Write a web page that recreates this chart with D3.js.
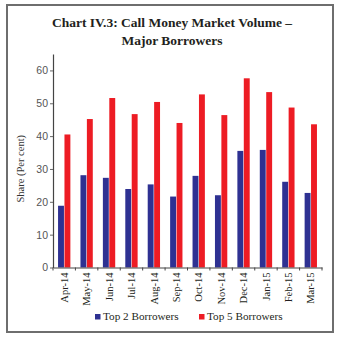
<!DOCTYPE html>
<html>
<head>
<meta charset="utf-8">
<script src="https://cdn.jsdelivr.net/npm/d3@7"></script>
<style>
  html, body { margin: 0; padding: 0; background: #fff; }
  svg { display: block; }
</style>
</head>
<body>
<svg id="chart" width="343" height="342"></svg>
<script>
// Monthly shares of call money borrowing by the largest borrowers
const months = ["Apr-14","May-14","Jun-14","Jul-14","Aug-14","Sep-14","Oct-14","Nov-14","Dec-14","Jan-15","Feb-15","Mar-15"];
const top2 = [18.8, 28.1, 27.3, 23.9, 25.3, 21.6, 27.9, 22.0, 35.5, 35.8, 26.1, 22.7];
const top5 = [40.5, 45.2, 51.6, 46.7, 50.4, 44.0, 52.7, 46.4, 57.6, 53.4, 48.7, 43.6];
const seriesNames = ["Top 2 Borrowers", "Top 5 Borrowers"];
const seriesColors = ["#2e3192", "#ed1c24"];
const yTicks = [0, 10, 20, 30, 40, 50, 60];

const svg = d3.select("#chart");
const plotLeft = 53, plotRight = 322, plotTop = 54, plotBottom = 267.5;

// outer frame
svg.append("rect")
  .attr("x", 7).attr("y", 5).attr("width", 326).attr("height", 327)
  .attr("fill", "none").attr("stroke", "#6e6e6e").attr("stroke-width", 2);

// title
const title = svg.append("text")
  .attr("text-anchor", "middle")
  .attr("font-family", "'Liberation Serif', 'DejaVu Serif', serif")
  .attr("font-weight", "bold").attr("font-size", 13.5).attr("fill", "#231f20");
title.append("tspan").attr("x", 172).attr("y", 27).text("Chart IV.3: Call Money Market Volume \u2013");
title.append("tspan").attr("x", 172).attr("y", 45).text("Major Borrowers");

const x0 = d3.scaleBand().domain(months).range([plotLeft, plotRight])
  .paddingInner(0.45).paddingOuter(0.225);
const x1 = d3.scaleBand().domain([0, 1]).range([0, x0.bandwidth()]).paddingInner(0.08);
const y = d3.scaleLinear().domain([0, 65]).range([plotBottom, plotTop]);

// bars
const groups = svg.append("g").selectAll("g")
  .data(months.map((m, i) => ({ m, vals: [top2[i], top5[i]] })))
  .join("g")
  .attr("transform", d => `translate(${x0(d.m)},0)`);
groups.selectAll("rect")
  .data(d => d.vals.map((v, k) => ({ v, k })))
  .join("rect")
  .attr("x", d => x1(d.k))
  .attr("width", x1.bandwidth())
  .attr("y", d => y(d.v))
  .attr("height", d => y(0) - y(d.v))
  .attr("fill", d => seriesColors[d.k]);

// y axis
const yAxis = svg.append("g")
  .attr("transform", `translate(${plotLeft},0)`)
  .call(d3.axisLeft(y).tickValues(yTicks).tickSize(3).tickSizeOuter(0));
yAxis.select(".domain").attr("stroke", "#444").attr("stroke-width", 1.2);
yAxis.selectAll(".tick line").attr("stroke", "#666");
yAxis.selectAll(".tick text")
  .attr("font-family", "'Liberation Sans', 'DejaVu Sans', sans-serif")
  .attr("font-size", 10.5).attr("fill", "#555").attr("x", -5);

// x axis with ticks at the category boundaries
const xAxis = svg.append("g")
  .attr("transform", `translate(0,${plotBottom})`)
  .call(d3.axisBottom(x0).tickSize(0).tickSizeOuter(0));
xAxis.select(".domain").attr("stroke", "#444").attr("stroke-width", 1.2);
xAxis.selectAll(".tick text")
  .attr("font-family", "'Liberation Serif', 'DejaVu Serif', serif")
  .attr("font-size", 10.5).attr("fill", "#231f20")
  .attr("transform", "rotate(-90)")
  .attr("text-anchor", "end")
  .attr("x", -5).attr("y", 0).attr("dy", "0.35em");
const step = x0.step();
const bounds = months.map(m => x0(m) - step * x0.paddingInner() / 2).concat([plotRight]);
svg.append("g").selectAll("line")
  .data(bounds)
  .join("line")
  .attr("x1", d => d).attr("x2", d => d)
  .attr("y1", plotBottom).attr("y2", plotBottom + 3)
  .attr("stroke", "#444");

// y axis title
svg.append("text")
  .attr("transform", `translate(24,${(plotTop + plotBottom) / 2 + 8}) rotate(-90)`)
  .attr("text-anchor", "middle")
  .attr("font-family", "'Liberation Serif', 'DejaVu Serif', serif")
  .attr("font-size", 10.5).attr("fill", "#333")
  .text("Share (Per cent)");

// legend
const legendX = [95, 199];
const legend = svg.append("g").selectAll("g")
  .data(seriesNames)
  .join("g")
  .attr("transform", (d, i) => `translate(${legendX[i]},314)`);
legend.append("rect").attr("width", 5.5).attr("height", 5.5)
  .attr("fill", (d, i) => seriesColors[i]);
legend.append("text")
  .attr("x", 8).attr("y", 6)
  .attr("font-family", "'Liberation Serif', 'DejaVu Serif', serif")
  .attr("font-size", 11.2).attr("fill", "#231f20")
  .text(d => d);
</script>
</body>
</html>
